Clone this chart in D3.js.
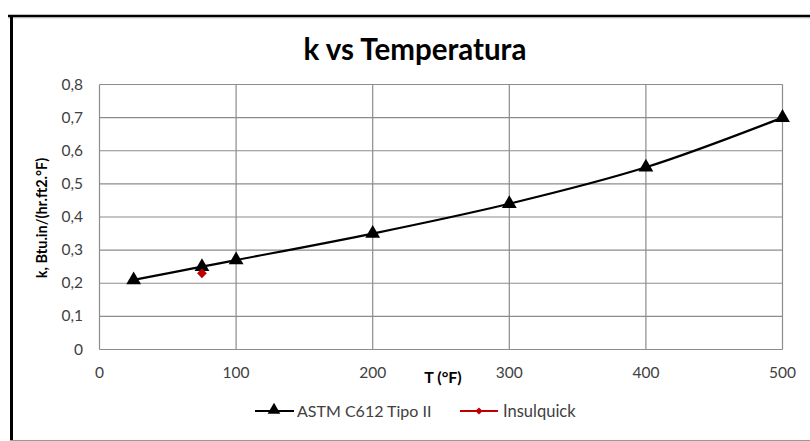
<!DOCTYPE html>
<html><head><meta charset="utf-8">
<script src="https://cdn.jsdelivr.net/npm/d3@7"></script>
<style>body{margin:0;background:#fff}svg{display:block}text{font-family:Lato,"Open Sans",sans-serif}</style>
</head><body><svg id="c" width="810" height="441"></svg>
<script>
const astmT = [25, 75, 100, 200, 300, 400, 500];
const astmK = [0.21, 0.25, 0.27, 0.35, 0.44, 0.55, 0.70];
const insT = [75];
const insK = [0.23];
const xTicks = [0, 100, 200, 300, 400, 500];
const yTicks = [0, 0.1, 0.2, 0.3, 0.4, 0.5, 0.6, 0.7, 0.8];
const seriesNames = ["ASTM C612 Tipo II", "Insulquick"];

const svg = d3.select("#c");
// frame
svg.append("rect").attr("x",0).attr("y",0).attr("width",810).attr("height",441).attr("fill","#fff");
svg.append("line").attr("x1",8).attr("x2",810).attr("y1",16).attr("y2",16).attr("stroke","#000").attr("stroke-width",2.5);
svg.append("line").attr("x1",8).attr("x2",810).attr("y1",17.8).attr("y2",17.8).attr("stroke","#aaa").attr("stroke-width",1);
svg.append("line").attr("x1",11.5).attr("x2",11.5).attr("y1",15).attr("y2",441).attr("stroke","#000").attr("stroke-width",3);
svg.append("line").attr("x1",10).attr("x2",810).attr("y1",440.5).attr("y2",440.5).attr("stroke","#999").attr("stroke-width",1);

const x = d3.scaleLinear().domain([0,500]).range([99.5,782.5]);
const y = d3.scaleLinear().domain([0,0.8]).range([349.5,84.5]);

// grid
svg.append("g").selectAll("line").data(yTicks).join("line")
  .attr("x1",x(0)).attr("x2",x(500)).attr("y1",d=>y(d)).attr("y2",d=>y(d))
  .attr("stroke","#8c8c8c").attr("stroke-width",1.2);
svg.append("g").selectAll("line").data(xTicks).join("line")
  .attr("x1",d=>x(d)).attr("x2",d=>x(d)).attr("y1",y(0)).attr("y2",y(0.8))
  .attr("stroke","#8c8c8c").attr("stroke-width",1.2);

const fmt = d => d===0 ? "0" : d3.format(".1f")(d).replace(".",",");
svg.append("g").selectAll("text").data(yTicks).join("text")
  .attr("x",83).attr("y",d=>y(d)+5).attr("text-anchor","end")
  .attr("font-size",15.5).attr("fill","#404040").text(fmt);
svg.append("g").selectAll("text").data(xTicks).join("text")
  .attr("x",d=>x(d)).attr("y",378).attr("text-anchor","middle")
  .attr("font-size",15.5).attr("fill","#404040").text(d=>d);

// title
svg.append("text").attr("x",415).attr("y",60).attr("text-anchor","middle")
  .attr("font-size",29.5).attr("font-weight","bold").attr("fill","#000").text("k vs Temperatura");
// axis titles
svg.append("text").attr("transform","translate(47,218) rotate(-90)").attr("text-anchor","middle")
  .attr("font-size",14.5).attr("font-weight","bold").attr("fill","#000").text("k, Btu.in/(hr.ft2.°F)");
svg.append("text").attr("x",443).attr("y",383).attr("text-anchor","middle")
  .attr("font-size",16).attr("font-weight","bold").attr("fill","#000").text("T (°F)");

// series
const astm = astmT.map((t,i)=>[t,astmK[i]]);
const line = d3.line().x(d=>x(d[0])).y(d=>y(d[1])).curve(d3.curveCatmullRom.alpha(0.5));
svg.append("path").attr("d",line(astm)).attr("fill","none").attr("stroke","#000").attr("stroke-width",2.2);
const tri = d3.symbol().type(d3.symbolTriangle).size(95);
svg.append("g").selectAll("path").data(astm).join("path")
  .attr("transform",d=>`translate(${x(d[0])},${y(d[1])})`).attr("d",tri).attr("fill","#000");
const ins = insT.map((t,i)=>[t,insK[i]]);
const dia = d3.symbol().type(d3.symbolSquare).size(48);
svg.append("g").selectAll("path").data(ins).join("path")
  .attr("transform",d=>`translate(${x(d[0])},${y(d[1])}) rotate(45)`).attr("d",dia).attr("fill","#c00000");

// legend
const lg = svg.append("g");
lg.append("line").attr("x1",255).attr("x2",294).attr("y1",411).attr("y2",411).attr("stroke","#000").attr("stroke-width",2.2);
lg.append("path").attr("transform","translate(274,410)").attr("d",d3.symbol().type(d3.symbolTriangle).size(70)).attr("fill","#000");
lg.append("text").attr("x",297).attr("y",416.5).attr("font-size",16).attr("fill","#404040").text(seriesNames[0]);
lg.append("line").attr("x1",460).attr("x2",498).attr("y1",411).attr("y2",411).attr("stroke","#c00000").attr("stroke-width",2);
lg.append("path").attr("transform","translate(479,411) rotate(45)").attr("d",d3.symbol().type(d3.symbolSquare).size(26)).attr("fill","#c00000");
lg.append("text").attr("x",503).attr("y",416.5).attr("font-size",16.5).attr("fill","#404040").text(seriesNames[1]);
</script></body></html>
